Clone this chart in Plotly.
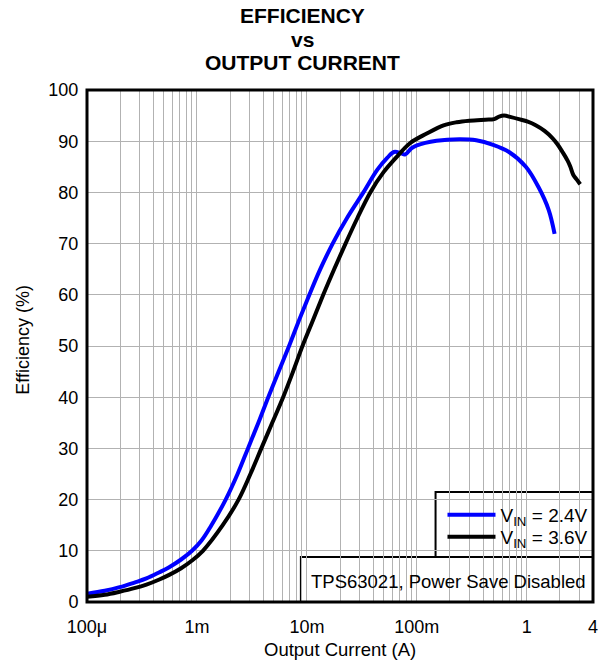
import plotly.graph_objects as go

# ---- data ----
vin24_current = [1.0e-4, 1.45e-4, 1.98e-4, 2.7e-4, 3.47e-4, 4.55e-4, 5.59e-4, 7.18e-4, 9.02e-4, 1.1e-3,
                 1.337e-3, 1.825e-3, 2.341e-3, 2.911e-3, 3.619e-3, 4.452e-3, 5.537e-3, 6.884e-3, 8.472e-3, 1.053e-2,
                 1.323e-2, 1.715e-2, 2.317e-2, 3.263e-2, 4.36e-2, 5.4e-2, 6.2e-2, 7.1e-2, 7.8e-2, 8.9e-2,
                 0.1, 0.151, 0.244, 0.347, 0.494, 0.689, 0.98, 1.28, 1.58, 1.79]
vin24_eff = [1.6, 2.2, 2.9, 3.8, 4.6, 5.8, 6.8, 8.3, 10, 12.0,
             14.8, 20, 25, 30, 35, 40, 45, 50, 55, 60,
             65, 70, 75, 80, 84.4, 86.8, 87.9, 87.7, 87.4, 88.6,
             89.2, 90.1, 90.4, 90.2, 89.3, 87.9, 85, 81, 76.6, 71.9]

vin36_current = [1.0e-4, 1.45e-4, 1.98e-4, 2.7e-4, 3.47e-4, 4.55e-4, 5.59e-4, 7.18e-4, 9.02e-4, 1.133e-3,
                 1.715e-3, 2.39e-3, 3.065e-3, 3.85e-3, 4.838e-3, 6.078e-3, 7.479e-3, 9.111e-3, 1.133e-2, 1.408e-2,
                 1.769e-2, 2.246e-2, 2.88e-2, 3.772e-2, 5.0e-2, 6.6e-2, 8.65e-2, 0.123, 0.175, 0.23,
                 0.3, 0.42, 0.504, 0.56, 0.621, 0.72, 0.847, 1.02, 1.205, 1.45,
                 1.71, 1.9, 2.11, 2.35, 2.49, 2.65, 2.85, 3.06]
vin36_eff = [1.0, 1.4, 2.0, 2.7, 3.4, 4.4, 5.3, 6.6, 8.1, 10,
             15, 20, 25, 30, 35, 40, 45, 50, 55, 60,
             65, 70, 75, 80, 84, 87, 89.6, 91.5, 93.1, 93.7,
             94.0, 94.2, 94.3, 94.8, 95, 94.7, 94.3, 93.8, 93.1, 92,
             90.6, 89.4, 87.9, 86.2, 85, 83.4, 82.5, 81.6]

series_names = ["V<sub>IN</sub> = 2.4V", "V<sub>IN</sub> = 3.6V"]
x_major_vals = [1e-4, 1e-3, 1e-2, 1e-1, 1, 4]
x_major_text = ["100\u03bc", "1m", "10m", "100m", "1", "4"]
y_ticks = [0, 10, 20, 30, 40, 50, 60, 70, 80, 90, 100]
title_lines = ["EFFICIENCY", "vs", "OUTPUT CURRENT"]
note_text = "TPS63021, Power Save Disabled"

FONT = "Arial, Liberation Sans, sans-serif"
GRID = "rgb(178,178,178)"

# minor gridlines on the log axis (2..9 per decade)
minor_vals = []
for d in [1e-4, 1e-3, 1e-2, 1e-1, 1]:
    for m in range(2, 10):
        v = d * m
        if v < 4.0:
            minor_vals.append(v)

fig = go.Figure()
fig.add_trace(go.Scatter(x=vin24_current, y=vin24_eff, mode="lines", name=series_names[0],
                         legend="legend",
                         line=dict(color="#0000ff", width=4, shape="spline", smoothing=1.0)))
fig.add_trace(go.Scatter(x=vin36_current, y=vin36_eff, mode="lines", name=series_names[1],
                         legend="legend2",
                         line=dict(color="#000000", width=4, shape="spline", smoothing=1.0)))

L, R, T, B = 87, 12, 90, 59
W, H = 610, 661
pw, ph = W - L - R, H - T - B

def px2x(px):
    return (px - L) / pw

def px2y(py):
    return (H - B - py) / ph

leg_common = dict(xanchor="left", yanchor="middle", bgcolor="rgba(0,0,0,0)", borderwidth=0,
                  font=dict(size=19, family=FONT), tracegroupgap=0, itemwidth=48)

fig.update_layout(
    width=W, height=H,
    margin=dict(l=L, r=R, t=T, b=B, pad=0),
    paper_bgcolor="white", plot_bgcolor="white",
    font=dict(family=FONT, size=18, color="black"),
    showlegend=True,
    legend=dict(x=px2x(446), y=px2y(515), **leg_common),
    legend2=dict(x=px2x(446), y=px2y(537), **leg_common),
    xaxis=dict(type="log", range=[-4, 0.60206], tickvals=x_major_vals, ticktext=x_major_text,
               showgrid=True, gridcolor=GRID, gridwidth=1.3, zeroline=False,
               ticks="outside", ticklen=8, tickcolor="rgba(0,0,0,0)",
               tickfont=dict(size=18), showline=False,
               minor=dict(tickmode="array", tickvals=minor_vals, showgrid=True,
                          gridcolor=GRID, gridwidth=1.3, ticks="")),
    yaxis=dict(range=[0, 100], tickvals=y_ticks, showgrid=True, gridcolor=GRID,
               gridwidth=1.3, zeroline=False, ticks="outside", ticklen=4,
               tickcolor="rgba(0,0,0,0)", tickfont=dict(size=18), showline=False),
)

# frame
fig.add_shape(type="rect", xref="paper", yref="paper", x0=0, x1=1, y0=0, y1=1,
              line=dict(color="black", width=3), layer="above")
# legend box and note box
fig.add_shape(type="rect", xref="paper", yref="paper", x0=px2x(439), x1=1,
              y0=px2y(557), y1=px2y(492), line=dict(color="black", width=2),
              fillcolor="white", layer="below")
fig.add_shape(type="rect", xref="paper", yref="paper", x0=px2x(303), x1=1,
              y0=0, y1=px2y(557), line=dict(color="black", width=2),
              fillcolor="white", layer="below")

fig.add_annotation(text=note_text, xref="paper", yref="paper", x=px2x(452), y=px2y(581),
                   showarrow=False, xanchor="center", yanchor="middle",
                   font=dict(size=18.5, family=FONT))

# titles
for txt, cy in zip(title_lines, [15, 39, 62]):
    fig.add_annotation(text="<b>%s</b>" % txt, xref="paper", yref="paper",
                       x=px2x(305), y=px2y(cy), showarrow=False,
                       xanchor="center", yanchor="middle",
                       font=dict(size=21, family=FONT))

fig.add_annotation(text="Output Current (A)", xref="paper", yref="paper",
                   x=0.5, y=px2y(649), showarrow=False, xanchor="center", yanchor="middle",
                   font=dict(size=18.5, family=FONT))
fig.add_annotation(text="Efficiency (%)", xref="paper", yref="paper",
                   x=px2x(22), y=px2y(340), showarrow=False, xanchor="center", yanchor="middle",
                   textangle=-90, font=dict(size=18, family=FONT))

fig.write_html("out.html")
